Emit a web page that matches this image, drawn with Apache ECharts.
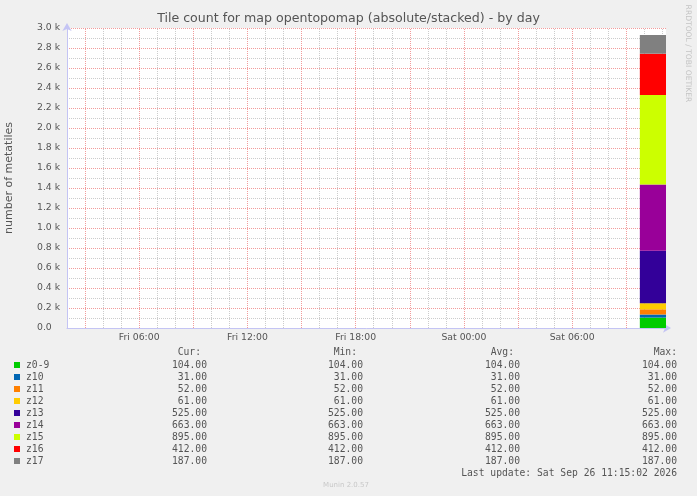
<!DOCTYPE html>
<html>
<head>
<meta charset="utf-8">
<script src="https://cdn.jsdelivr.net/npm/echarts@6/dist/echarts.min.js"></script>
<style>
html,body{margin:0;padding:0;background:#f0f0f0;}
#chart{width:697px;height:496px;}
</style>
</head>
<body>
<div id="chart"></div>
<script>
// ---- data ----
const categories = ['z0-9','z10','z11','z12','z13','z14','z15','z16','z17'];
const values     = [104, 31, 52, 61, 525, 663, 895, 412, 187];
const curVals    = [104, 31, 52, 61, 525, 663, 895, 412, 187];
const minVals    = [104, 31, 52, 61, 525, 663, 895, 412, 187];
const avgVals    = [104, 31, 52, 61, 525, 663, 895, 412, 187];
const maxVals    = [104, 31, 52, 61, 525, 663, 895, 412, 187];
// time in hours since Fri 00:00
const dataStart = 33.75;   // Sat 09:45
const dataEnd   = 35.2;    // end of graph
const xMin = 2, xMax = 35.2;
const majorHours = [3,6,9,12,15,18,21,24,27,30,33];
const minorHours = [4,5,7,8,10,11,13,14,16,17,19,20,22,23,25,26,28,29,31,32,34,35];
const xLabelHours = [6,12,18,24,30];
const xLabelTexts = ['Fri 06:00','Fri 12:00','Fri 18:00','Sat 00:00','Sat 06:00'];
const lastUpdate = 'Last update: Sat Sep 26 11:15:02 2026';

// ---- styles ----
const colors = ['#00CC00','#0066B3','#FF8000','#FFCC00','#330099','#990099','#CCFF00','#FF0000','#808080'];
const txt = '#555555';
const mono = '"DejaVu Sans Mono", monospace';
const sans = '"DejaVu Sans", sans-serif';
const red = '#f29c9c';
const grey = '#cccccc';
const axisCol = '#c4c4f4';

const chart = echarts.init(document.getElementById('chart'), null, {renderer:'canvas'});

// stacked bases computed from the values
const bases = [];
let acc = 0;
values.forEach(v => { bases.push(acc); acc += v; });

const series = categories.map((name, i) => {
  const s = {
    name: name,
    type: 'custom',
    silent: true,
    clip: true,
    z: 2,
    itemStyle: {color: colors[i]},
    encode: {x: [0, 1], y: [2, 3]},
    data: [[dataStart, dataEnd, bases[i], bases[i] + values[i]]],
    renderItem: (params, api) => {
      const p0 = api.coord([api.value(0), api.value(3)]);
      const p1 = api.coord([api.value(1), api.value(2)]);
      return {type: 'rect', shape: {x: p0[0], y: p0[1], width: p1[0] - p0[0], height: p1[1] - p0[1]}, style: {fill: colors[i]}};
    },
    animation: false
  };
  if (i === 0) {
    s.markLine = {
      silent: true, z: 1,
      symbol: 'none',
      label: {show: false},
      animation: false,
      data: minorHours.map(h => ({xAxis: h, lineStyle: {color: grey, width: 1, type: [1, 1]}}))
        .concat(majorHours.map(h => ({xAxis: h, lineStyle: {color: red, width: 1, type: [1, 1]}})))
    };
  }
  return s;
});

const fmt = v => v.toFixed(2);
const graphics = [];
const colX = [207, 363, 520, 677];
const headX = [201, 357, 514, 677];
const heads = ['Cur:', 'Min:', 'Avg:', 'Max:'];
heads.forEach((h, j) => {
  graphics.push({type:'text', silent:true, style:{text:h, x:headX[j], y:352.5, fill:txt, font:'9.7px ' + mono, textAlign:'right', textVerticalAlign:'middle', verticalAlign:'middle'}});
});
const cols = [curVals, minVals, avgVals, maxVals];
categories.forEach((c, i) => {
  cols.forEach((arr, j) => {
    graphics.push({type:'text', silent:true, style:{text:fmt(arr[i]), x:colX[j], y:365 + 12*i, fill:txt, font:'9.7px ' + mono, textAlign:'right', textVerticalAlign:'middle', verticalAlign:'middle'}});
  });
});
graphics.push({type:'text', silent:true, style:{text:lastUpdate, x:677, y:473, fill:txt, font:'9.7px ' + mono, textAlign:'right', textVerticalAlign:'middle', verticalAlign:'middle'}});
graphics.push({type:'text', silent:true, style:{text:'Munin 2.0.57', x:346, y:485, fill:'#c8c8c8', font:'7px ' + sans, textAlign:'center', textVerticalAlign:'middle', verticalAlign:'middle'}});
graphics.push({type:'text', silent:true, x:688, y:53.5, rotation:-Math.PI/2, style:{text:'RRDTOOL / TOBI OETIKER', x:0, y:0, fill:'#c4c4c4', font:'7.6px ' + sans, textAlign:'center', textVerticalAlign:'middle', verticalAlign:'middle'}});

chart.setOption({
  animation: false,
  backgroundColor: '#f0f0f0',
  title: {
    text: 'Tile count for map opentopomap (absolute/stacked) - by day',
    left: 'center', top: 12, padding: 0,
    textStyle: {color: txt, fontFamily: sans, fontSize: 12.6, fontWeight: 'normal'}
  },
  legend: {
    data: categories,
    orient: 'vertical',
    left: 14, top: 359,
    itemWidth: 6, itemHeight: 6, itemGap: 0,
    icon: 'rect',
    selectedMode: false,
    padding: 0,
    textStyle: {color: txt, fontFamily: mono, fontSize: 9.7, lineHeight: 12, padding: [0, 0, 0, 1]}
  },
  grid: {left: 67, right: 31, top: 28, bottom: 168, show: true, backgroundColor: '#ffffff', borderWidth: 0, containLabel: false, outerBoundsMode: 'none'},
  xAxis: {
    type: 'value', min: xMin, max: xMax, interval: 1,
    axisLine: {show: true, lineStyle: {color: axisCol, width: 1}, symbol: ['none', 'arrow'], symbolSize: [7, 8], symbolOffset: [0, 5]},
    axisTick: {show: false},
    splitLine: {show: false},
    axisLabel: {
      color: txt, fontFamily: sans, fontSize: 9.3, margin: 5,
      formatter: v => { const k = xLabelHours.indexOf(Math.round(v)); return (Math.abs(v - Math.round(v)) < 1e-6 && k >= 0) ? xLabelTexts[k] : ''; }
    }
  },
  yAxis: {
    type: 'value', min: 0, max: 3000, interval: 200,
    name: 'number of metatiles', nameLocation: 'middle', nameGap: 52,
    nameTextStyle: {color: txt, fontFamily: sans, fontSize: 11},
    axisLine: {show: true, lineStyle: {color: axisCol, width: 1}, symbol: ['none', 'arrow'], symbolSize: [7, 8], symbolOffset: [0, 5]},
    axisTick: {show: false},
    minorTick: {show: false, splitNumber: 2},
    minorSplitLine: {show: true, lineStyle: {color: grey, width: 1, type: [1, 1]}},
    splitLine: {show: true, lineStyle: {color: red, width: 1, type: [1, 1]}},
    axisLabel: {
      color: txt, fontFamily: sans, fontSize: 9.3, margin: 30, align: 'left',
      formatter: v => v === 0 ? '0.0' : (v / 1000).toFixed(1) + ' k'
    }
  },
  graphic: graphics,
  series: series
});
</script>
</body>
</html>
